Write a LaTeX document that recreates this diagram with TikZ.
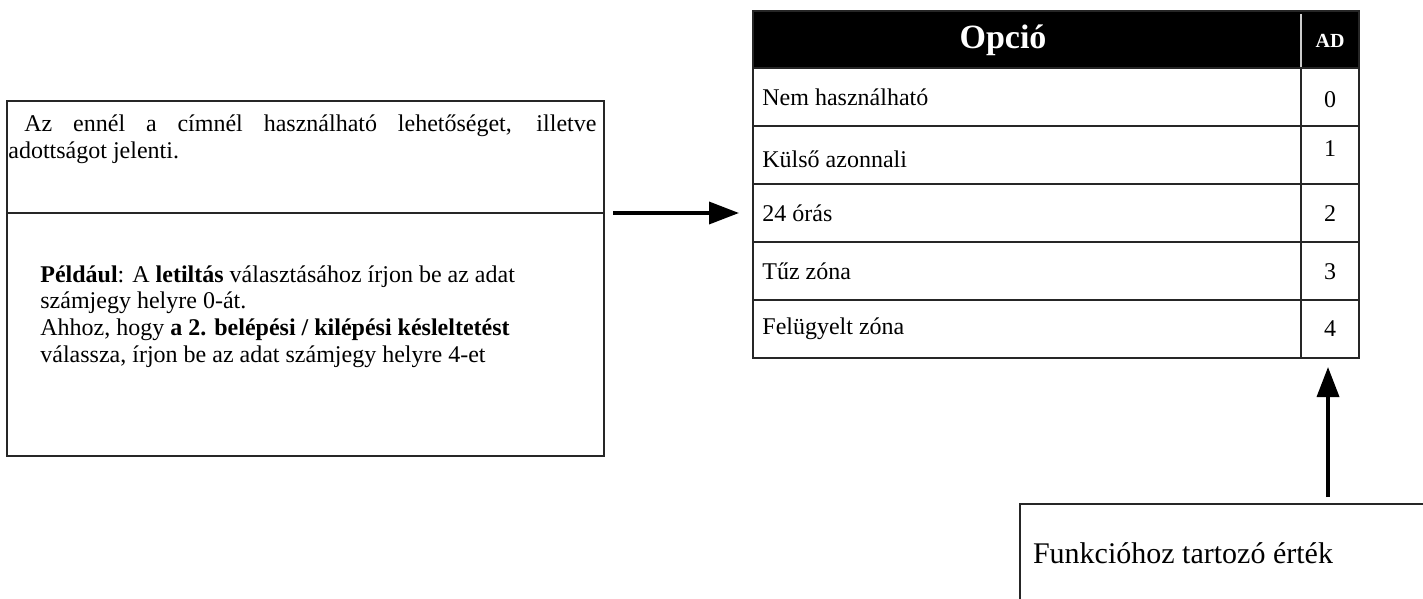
\documentclass[tikz,border=0pt]{standalone}
\usepackage{fontspec}
\setmainfont{Liberation Serif}
\usetikzlibrary{arrows.meta}
\begin{document}
\begin{tikzpicture}[x=0.5pt,y=-0.5pt,
  box/.style={draw=black!85, line width=1pt, rectangle, inner sep=0pt},
  cell/.style={draw=black!85, line width=1pt, rectangle, inner sep=0pt, minimum height=29pt},
  body/.style={font=\fontsize{12}{13.4}\selectfont, inner sep=0pt},
  arr/.style={line width=1.8pt, -{Triangle[length=15pt,width=11pt]}}]
\useasboundingbox (0,0) rectangle (1423,599);

% left box
\node[box, minimum width=298.5pt, minimum height=177.5pt] (lbox) at (305.5,278.5) {};
\coordinate (dl) at (7,213);
\coordinate (dr) at (604,213);
\draw[draw=black!85, line width=1pt] (dl) -- (dr);
\node[body, anchor=west] (t1) at (8,126) {\makebox[294pt][s]{\hspace{8pt}Az ennél a címnél használható lehetőséget, illetve}};
\node[body, anchor=west] (t2) at (8,153) {adottságot jelenti.};
\node[body, anchor=north west, align=left] (t3) at (40,265) {\textbf{Például}: A \textbf{letiltás} választásához írjon be az adat\\
számjegy helyre 0-át.\\
Ahhoz, hogy \textbf{a 2. belépési / kilépési késleltetést}\\
válassza, írjon be az adat számjegy helyre 4-et};

% table
\node[cell, fill=black, minimum width=303pt, minimum height=28.5pt] (hdr) at (1056,39.5) {};
\node[font=\bfseries\fontsize{17}{19}\selectfont, text=white] (hopt) at (1003,40) {Opció};
\node[font=\bfseries\fontsize{10}{12}\selectfont, text=white] (had) at (1330,41) {AD};
\coordinate (hd1) at (1301,14);
\coordinate (hd2) at (1301,68);
\draw[white!80!black, line width=0.8pt] (hd1) -- (hd2);

\foreach \i/\lab/\val/\dl/\dv in {0/Nem használható/0/0/3, 1/Külső azonnali/1/4/-6, 2/24 órás/2/0/1, 3/Tűz zóna/3/0/1, 4/Felügyelt zóna/4/0/0}{
  \node[cell, minimum width=274pt] (c\i) at (1027,97+58*\i) {};
  \node[cell, minimum width=29pt] (v\i) at (1330,97+58*\i) {};
  \node[body, anchor=west] (l\i) at (762,97+58*\i+\dl) {\lab};
  \node[body] (n\i) at (1330,97+58*\i+\dv) {\val};
}

% lower box
\node[box, minimum width=230pt, minimum height=70pt] (bbox) at (1250,574) {};
\node[font=\fontsize{15}{17}\selectfont, inner sep=0pt] (btxt) at (1183,553) {Funkcióhoz tartozó érték};

% arrows
\coordinate (a1) at (613,213);
\coordinate (a2) at (739,213);
\draw[arr] (a1) -- (a2);
\coordinate (b1) at (1328,497);
\coordinate (b2) at (1328,367);
\draw[arr] (b1) -- (b2);
\end{tikzpicture}
\end{document}
